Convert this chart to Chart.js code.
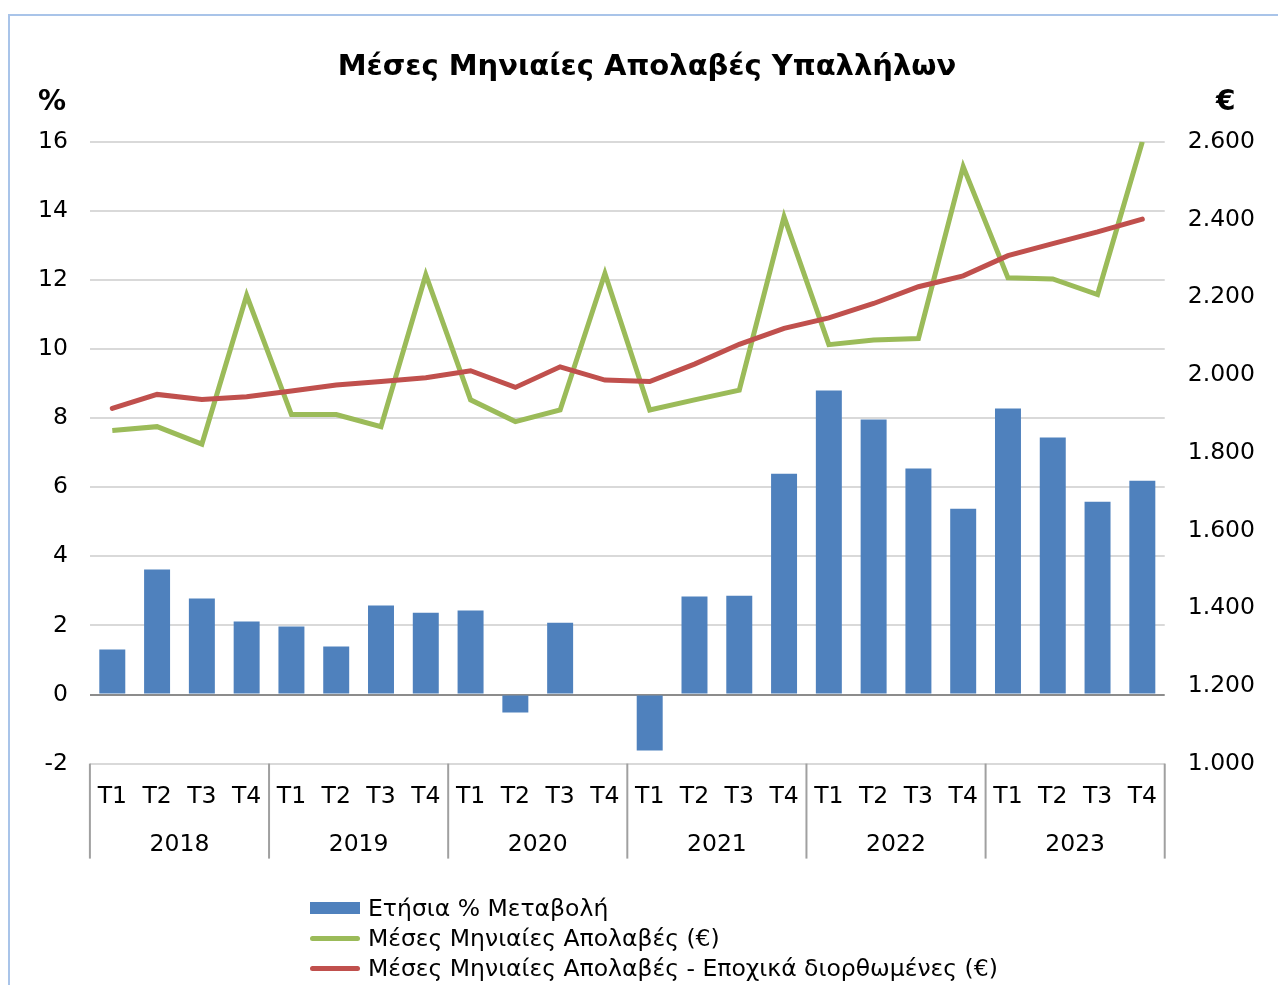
<!DOCTYPE html>
<html>
<head>
<meta charset="utf-8">
<title>Μέσες Μηνιαίες Απολαβές Υπαλλήλων</title>
<script src="https://cdn.jsdelivr.net/npm/chart.js@4.4.1/dist/chart.umd.min.js"></script>
<style>
    body { margin: 0; background: #fff; overflow: hidden; }
    #frame { position: absolute; left: 8px; top: 14px; width: 1300px; height: 1000px; border: 2px solid #a9c4e9; }
    #earningsChart { position: absolute; left: 0; top: 0; }
    #legend { position: absolute; left: 310px; top: 893px; font-family: 'DejaVu Sans', Verdana, sans-serif; font-size: 23.5px; color: #000; }
    .legend-item { display: flex; align-items: center; height: 30px; white-space: nowrap; }
    .legend-swatch { width: 50px; margin-right: 8px; }
</style>
</head>
<body>
<div id="frame"></div>
<canvas id="earningsChart" width="1278" height="985"></canvas>
<div id="legend"></div>

<script>
// Quarters 2018 T1 .. 2023 T4
const quarterLabels = ['T1', 'T2', 'T3', 'T4', 'T1', 'T2', 'T3', 'T4', 'T1', 'T2', 'T3', 'T4',
                       'T1', 'T2', 'T3', 'T4', 'T1', 'T2', 'T3', 'T4', 'T1', 'T2', 'T3', 'T4'];
const yearLabels = ['2018', '2019', '2020', '2021', '2022', '2023'];

// Ετήσια % Μεταβολή (left axis)
const annualChange = [1.30, 3.62, 2.78, 2.11, 1.97, 1.39, 2.58, 2.37, 2.43, -0.52, 2.08, 0.0,
                      -1.62, 2.84, 2.86, 6.39, 8.80, 7.96, 6.54, 5.38, 8.28, 7.44, 5.58, 6.19];

// Μέσες Μηνιαίες Απολαβές (€) (right axis)
const avgEarnings = [1857, 1867, 1822, 2205, 1898, 1898, 1867, 2258, 1936, 1880, 1910, 2261,
                     1910, 1936, 1961, 2407, 2078, 2090, 2094, 2536, 2250, 2247, 2207, 2600];

// Μέσες Μηνιαίες Απολαβές - Εποχικά διορθωμένες (€) (right axis)
const avgEarningsSA = [1914, 1950, 1937, 1944, 1959, 1974, 1983, 1993, 2011, 1968, 2021, 1987,
                       1983, 2028, 2079, 2120, 2147, 2184, 2227, 2255, 2307, 2338, 2368, 2401];

const FONT = "'DejaVu Sans', Verdana, sans-serif";
const tickFont = { family: FONT, size: 23.5 };

function formatEuro(v) {
    return String(v).replace(/\B(?=(\d{3})+(?!\d))/g, '.');
}

// year separators under the axis + unit labels above the axes
const axisExtras = {
    id: 'axisExtras',
    afterDraw(chart) {
        const { ctx, chartArea, scales } = chart;
        const x = scales.x;
        const perYear = quarterLabels.length / yearLabels.length;
        ctx.save();
        ctx.strokeStyle = '#a0a0a0';
        ctx.lineWidth = 2;
        for (let i = 0; i <= yearLabels.length; i++) {
            let px;
            if (i === 0) px = x.left;
            else if (i === yearLabels.length) px = x.right;
            else px = (x.getPixelForValue(i * perYear - 1) + x.getPixelForValue(i * perYear)) / 2;
            ctx.beginPath();
            ctx.moveTo(px, chartArea.bottom);
            ctx.lineTo(px, chartArea.bottom + 95);
            ctx.stroke();
        }
        ctx.fillStyle = '#000';
        ctx.font = 'bold 28px ' + FONT;
        ctx.textBaseline = 'middle';
        ctx.textAlign = 'left';
        ctx.fillText('%', chartArea.left - 52, chartArea.top - 39);
        ctx.textAlign = 'center';
        ctx.fillText('€', chartArea.right + 61, chartArea.top - 39);
        ctx.restore();
    }
};

const chart = new Chart(document.getElementById('earningsChart'), {
    data: {
        labels: quarterLabels,
        datasets: [
            {
                type: 'bar',
                label: 'Ετήσια % Μεταβολή',
                data: annualChange,
                backgroundColor: '#4f81bd',
                yAxisID: 'y',
                barPercentage: 0.58,
                categoryPercentage: 1,
                order: 3
            },
            {
                type: 'line',
                label: 'Μέσες Μηνιαίες Απολαβές (€)',
                data: avgEarnings,
                borderColor: '#9bbb59',
                backgroundColor: '#9bbb59',
                borderWidth: 5,
                pointRadius: 0,
                tension: 0,
                yAxisID: 'y1',
                order: 2
            },
            {
                type: 'line',
                label: 'Μέσες Μηνιαίες Απολαβές - Εποχικά διορθωμένες (€)',
                data: avgEarningsSA,
                borderColor: '#c0504d',
                backgroundColor: '#c0504d',
                borderWidth: 5,
                borderCapStyle: 'round',
                pointRadius: 0,
                tension: 0,
                yAxisID: 'y1',
                order: 1
            }
        ]
    },
    options: {
        responsive: false,
        animation: false,
        devicePixelRatio: 1,
        // tick padding is counted twice in axis width, so side padding is small
        layout: { padding: { left: 16, right: 0, top: 14, bottom: 126 } },
        plugins: {
            legend: { display: false },
            tooltip: { enabled: false },
            title: {
                display: true,
                text: 'Μέσες Μηνιαίες Απολαβές Υπαλλήλων',
                color: '#000',
                font: { family: FONT, size: 29, weight: 'bold' },
                padding: { top: 36, bottom: 57 }
            }
        },
        scales: {
            x: {
                grid: { display: true, drawOnChartArea: false, drawTicks: true, tickLength: 19, color: 'rgba(0,0,0,0)' },
                border: { display: false },
                ticks: { font: tickFont, color: '#000', padding: 0, maxRotation: 0, autoSkip: false }
            },
            x2: {
                type: 'category',
                labels: yearLabels,
                position: 'bottom',
                offset: true,
                grid: { display: true, drawOnChartArea: false, drawTicks: true, tickLength: 20, color: 'rgba(0,0,0,0)' },
                border: { display: false },
                ticks: { font: tickFont, color: '#000', padding: 0, maxRotation: 0 }
            },
            y: {
                position: 'left',
                min: -2,
                max: 16,
                ticks: { stepSize: 2, font: tickFont, color: '#000', padding: 22 },
                grid: {
                    color: ctx => ctx.tick.value === 0 ? '#8c8c8c' : '#d9d9d9',
                    lineWidth: 2,
                    drawTicks: false
                },
                border: { display: false }
            },
            y1: {
                position: 'right',
                min: 1000,
                max: 2600,
                ticks: { stepSize: 200, font: tickFont, color: '#000', padding: 23, callback: v => formatEuro(v) },
                grid: { drawOnChartArea: false, drawTicks: false },
                border: { display: false }
            }
        }
    },
    plugins: [axisExtras]
});

// legend list, stacked like the original
const legendEl = document.getElementById('legend');
chart.data.datasets.forEach(ds => {
    const item = document.createElement('div');
    item.className = 'legend-item';
    const sw = document.createElement('span');
    sw.className = 'legend-swatch';
    sw.style.background = ds.backgroundColor;
    if (ds.type === 'bar') {
        sw.style.height = '12px';
    } else {
        sw.style.height = '5px';
        sw.style.borderRadius = '3px';
    }
    const txt = document.createElement('span');
    txt.textContent = ds.label;
    item.appendChild(sw);
    item.appendChild(txt);
    legendEl.appendChild(item);
});
</script>
</body>
</html>
